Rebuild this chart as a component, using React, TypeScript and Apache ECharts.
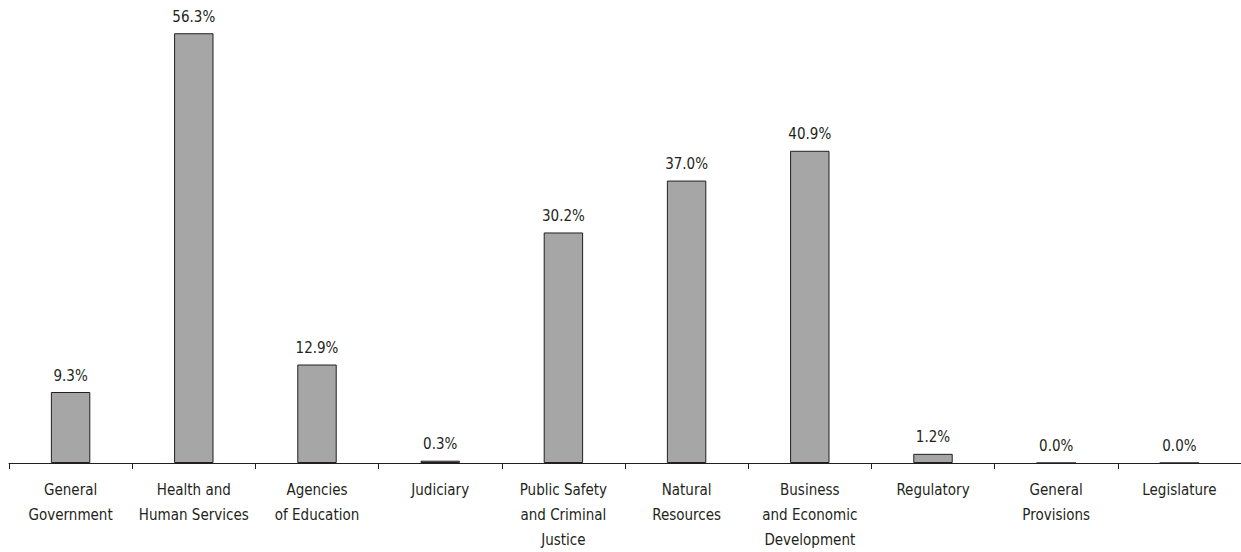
import React, { useEffect, useRef } from "react";
import * as echarts from "echarts";

const categories = [
  "General\nGovernment",
  "Health and\nHuman Services",
  "Agencies\nof Education",
  "Judiciary",
  "Public Safety\nand Criminal\nJustice",
  "Natural\nResources",
  "Business\nand Economic\nDevelopment",
  "Regulatory",
  "General\nProvisions",
  "Legislature",
];
const values = [9.3, 56.3, 12.9, 0.3, 30.2, 37.0, 40.9, 1.2, 0.0, 0.0];

const FONT = "'DejaVu Sans Condensed', 'DejaVu Sans', sans-serif";
const INK = "#231f20";

export default function App() {
  const ref = useRef<HTMLDivElement>(null);
  useEffect(() => {
    if (!ref.current) return;
    const chart = echarts.init(ref.current, undefined, { renderer: "svg" });
    chart.setOption({
      animation: false,
      backgroundColor: "#ffffff",
      grid: { left: 9, right: 0, top: 5, bottom: 89 },
      xAxis: {
        type: "category",
        data: categories,
        boundaryGap: true,
        axisLine: { lineStyle: { color: INK, width: 1 } },
        axisTick: { show: true, length: 6, alignWithLabel: false, lineStyle: { color: INK } },
        axisLabel: {
          interval: 0,
          color: INK,
          fontFamily: FONT,
          fontSize: 15,
          lineHeight: 25,
          margin: 14,
        },
      },
      yAxis: {
        type: "value",
        min: 0,
        max: 60,
        show: false,
        splitLine: { show: false },
      },
      series: [
        {
          type: "bar",
          data: values,
          barWidth: "32%",
          itemStyle: { color: "#a6a6a6", borderColor: INK, borderWidth: 1 },
          label: {
            show: true,
            position: "top",
            distance: 9,
            color: INK,
            fontFamily: FONT,
            fontSize: 15,
            formatter: (p: any) => p.value.toFixed(1) + "%",
          },
        },
      ],
    });
    return () => chart.dispose();
  }, []);
  return <div ref={ref} style={{ width: 1241, height: 552, position: "absolute", left: 0, top: 0 }} />;
}
